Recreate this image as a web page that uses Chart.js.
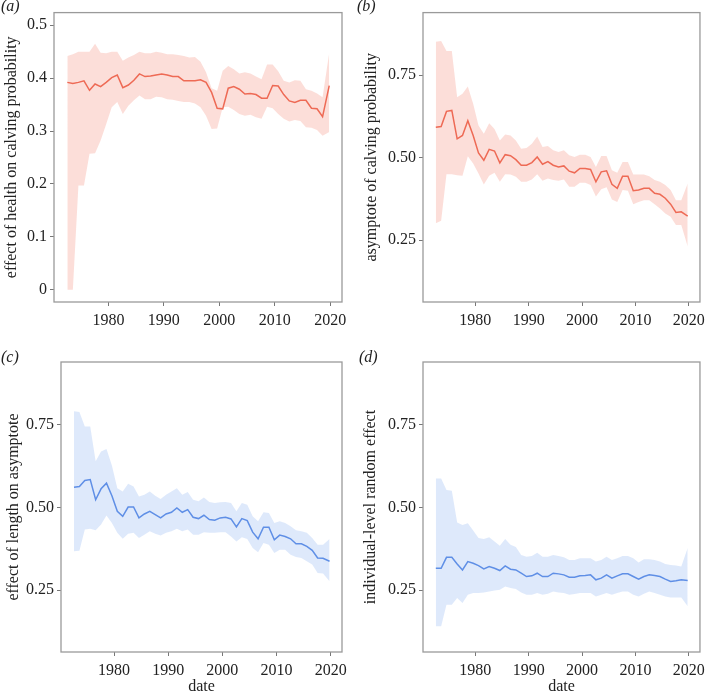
<!DOCTYPE html>
<html>
<head>
<meta charset="utf-8">
<script src="https://cdn.jsdelivr.net/npm/chart.js@4"></script>
<style>
    body { margin: 0; background: #fff; }
    #wrap { position: relative; width: 710px; height: 695px; }
    canvas { position: absolute; }
    .tag { position: absolute; font-family: "Liberation Serif", serif; font-style: italic; font-size: 16px; color: #222; }
</style>
</head>
<body>
<div id="wrap">
    <canvas id="chartA" width="355" height="330" style="left:0;top:0"></canvas>
    <canvas id="chartB" width="355" height="330" style="left:355px;top:0"></canvas>
    <canvas id="chartC" width="355" height="365" style="left:0;top:330px"></canvas>
    <canvas id="chartD" width="355" height="365" style="left:355px;top:330px"></canvas>
    <div class="tag" style="left:1px;top:-3px">(a)</div>
    <div class="tag" style="left:357px;top:-3px">(b)</div>
    <div class="tag" style="left:1px;top:348px">(c)</div>
    <div class="tag" style="left:359px;top:348px">(d)</div>
</div>
<script>
// one point per year
const dates = [1972.6, 1973.6, 1974.6, 1975.6, 1976.6, 1977.6, 1978.6, 1979.6, 1980.6, 1981.6,
    1982.6, 1983.6, 1984.6, 1985.6, 1986.6, 1987.6, 1988.6, 1989.6, 1990.6, 1991.6,
    1992.6, 1993.6, 1994.6, 1995.6, 1996.6, 1997.6, 1998.6, 1999.6, 2000.6, 2001.6,
    2002.6, 2003.6, 2004.6, 2005.6, 2006.6, 2007.6, 2008.6, 2009.6, 2010.6, 2011.6,
    2012.6, 2013.6, 2014.6, 2015.6, 2016.6, 2017.6, 2018.6, 2019.8];

const xTicks = [1980, 1990, 2000, 2010, 2020];
const yTicksA = [0, 0.1, 0.2, 0.3, 0.4, 0.5];
const yTicksBCD = [0.25, 0.50, 0.75];

// (a) effect of health on calving probability
const healthMean = [0.392, 0.390, 0.392, 0.395, 0.377, 0.389, 0.384, 0.392, 0.401, 0.406,
    0.382, 0.387, 0.396, 0.408, 0.403, 0.404, 0.406, 0.408, 0.406, 0.403,
    0.403, 0.395, 0.395, 0.395, 0.397, 0.392, 0.373, 0.343, 0.342, 0.381,
    0.384, 0.379, 0.370, 0.371, 0.369, 0.362, 0.362, 0.386, 0.385, 0.369,
    0.357, 0.354, 0.358, 0.358, 0.343, 0.342, 0.327, 0.386];
const healthUpper = [0.442, 0.445, 0.450, 0.450, 0.450, 0.465, 0.448, 0.447, 0.450, 0.450,
    0.433, 0.439, 0.444, 0.450, 0.447, 0.447, 0.450, 0.448, 0.445, 0.445,
    0.444, 0.442, 0.439, 0.440, 0.431, 0.411, 0.381, 0.376, 0.414, 0.423,
    0.417, 0.409, 0.411, 0.409, 0.403, 0.398, 0.426, 0.426, 0.413, 0.395,
    0.392, 0.396, 0.395, 0.379, 0.376, 0.371, 0.364, 0.448];
const healthLower = [0.000, 0.000, 0.197, 0.197, 0.257, 0.258, 0.282, 0.313, 0.345, 0.355,
    0.332, 0.348, 0.358, 0.367, 0.360, 0.360, 0.365, 0.364, 0.360, 0.359,
    0.357, 0.355, 0.355, 0.352, 0.345, 0.329, 0.304, 0.305, 0.345, 0.346,
    0.340, 0.332, 0.329, 0.331, 0.326, 0.323, 0.346, 0.343, 0.332, 0.323,
    0.318, 0.321, 0.319, 0.307, 0.306, 0.302, 0.291, 0.298];

// (b) asymptote of calving probability
const asymMean = [0.592, 0.594, 0.640, 0.643, 0.557, 0.567, 0.612, 0.567, 0.514, 0.492,
    0.525, 0.520, 0.484, 0.509, 0.506, 0.494, 0.477, 0.477, 0.485, 0.502,
    0.480, 0.488, 0.477, 0.472, 0.475, 0.459, 0.454, 0.467, 0.467, 0.464,
    0.427, 0.457, 0.460, 0.419, 0.407, 0.444, 0.444, 0.400, 0.402, 0.407,
    0.407, 0.392, 0.389, 0.377, 0.359, 0.334, 0.336, 0.323];
const asymUpper = [0.851, 0.853, 0.823, 0.823, 0.683, 0.693, 0.715, 0.663, 0.597, 0.572,
    0.604, 0.587, 0.552, 0.570, 0.567, 0.552, 0.527, 0.529, 0.542, 0.564,
    0.532, 0.535, 0.522, 0.517, 0.522, 0.507, 0.502, 0.509, 0.509, 0.502,
    0.472, 0.505, 0.505, 0.462, 0.454, 0.487, 0.487, 0.449, 0.449, 0.449,
    0.444, 0.432, 0.427, 0.417, 0.402, 0.371, 0.371, 0.422];
const asymLower = [0.301, 0.309, 0.450, 0.450, 0.447, 0.445, 0.504, 0.482, 0.452, 0.419,
    0.445, 0.454, 0.427, 0.450, 0.449, 0.442, 0.427, 0.427, 0.434, 0.450,
    0.430, 0.437, 0.432, 0.430, 0.434, 0.412, 0.412, 0.424, 0.424, 0.417,
    0.382, 0.404, 0.410, 0.373, 0.366, 0.402, 0.400, 0.359, 0.366, 0.371,
    0.371, 0.359, 0.346, 0.331, 0.321, 0.296, 0.296, 0.231];

// (c) effect of length on asymptote
const lengthMean = [0.561, 0.563, 0.581, 0.584, 0.523, 0.556, 0.573, 0.535, 0.488, 0.473,
    0.501, 0.501, 0.468, 0.480, 0.488, 0.478, 0.468, 0.480, 0.485, 0.498,
    0.485, 0.493, 0.470, 0.466, 0.476, 0.463, 0.461, 0.468, 0.470, 0.465,
    0.441, 0.466, 0.460, 0.425, 0.405, 0.440, 0.440, 0.402, 0.416, 0.412,
    0.405, 0.390, 0.390, 0.382, 0.370, 0.347, 0.346, 0.337];
const lengthUpper = [0.790, 0.788, 0.744, 0.744, 0.639, 0.669, 0.676, 0.626, 0.558, 0.548,
    0.571, 0.563, 0.533, 0.538, 0.548, 0.535, 0.525, 0.538, 0.548, 0.558,
    0.538, 0.546, 0.523, 0.518, 0.530, 0.516, 0.513, 0.515, 0.516, 0.513,
    0.488, 0.513, 0.508, 0.473, 0.458, 0.485, 0.483, 0.453, 0.458, 0.453,
    0.443, 0.431, 0.428, 0.423, 0.407, 0.387, 0.387, 0.404];
const lengthLower = [0.367, 0.369, 0.433, 0.435, 0.431, 0.448, 0.475, 0.453, 0.423, 0.405,
    0.420, 0.423, 0.407, 0.417, 0.428, 0.420, 0.415, 0.423, 0.428, 0.435,
    0.428, 0.433, 0.417, 0.417, 0.425, 0.423, 0.423, 0.425, 0.425, 0.412,
    0.397, 0.410, 0.404, 0.377, 0.364, 0.392, 0.387, 0.362, 0.372, 0.372,
    0.357, 0.350, 0.347, 0.337, 0.327, 0.302, 0.300, 0.277];

// (d) individual-level random effect
const randMean = [0.316, 0.316, 0.349, 0.349, 0.329, 0.311, 0.336, 0.331, 0.324, 0.314,
    0.321, 0.316, 0.309, 0.323, 0.313, 0.311, 0.301, 0.291, 0.293, 0.301,
    0.291, 0.291, 0.301, 0.299, 0.296, 0.289, 0.289, 0.293, 0.294, 0.296,
    0.281, 0.286, 0.296, 0.286, 0.293, 0.299, 0.299, 0.291, 0.283, 0.291,
    0.296, 0.294, 0.291, 0.283, 0.276, 0.278, 0.281, 0.279];
const randUpper = [0.587, 0.587, 0.552, 0.550, 0.454, 0.447, 0.452, 0.430, 0.407, 0.404,
    0.410, 0.397, 0.384, 0.404, 0.387, 0.380, 0.356, 0.351, 0.353, 0.363,
    0.351, 0.351, 0.356, 0.353, 0.349, 0.341, 0.341, 0.346, 0.346, 0.346,
    0.336, 0.341, 0.351, 0.341, 0.346, 0.353, 0.353, 0.346, 0.333, 0.343,
    0.343, 0.341, 0.336, 0.329, 0.326, 0.324, 0.321, 0.377];
const randLower = [0.141, 0.141, 0.206, 0.206, 0.226, 0.211, 0.236, 0.241, 0.241, 0.243,
    0.246, 0.249, 0.251, 0.261, 0.256, 0.253, 0.243, 0.236, 0.236, 0.241,
    0.236, 0.239, 0.246, 0.243, 0.241, 0.236, 0.238, 0.241, 0.241, 0.241,
    0.231, 0.236, 0.241, 0.236, 0.241, 0.246, 0.246, 0.236, 0.231, 0.239,
    0.246, 0.241, 0.236, 0.231, 0.228, 0.228, 0.228, 0.201];

const redLine = '#ee6a55';
const redBand = 'rgba(250, 200, 192, 0.6)';
const blueLine = '#5f8fe6';
const blueBand = 'rgba(200, 218, 248, 0.6)';

const serif = "'Liberation Serif', 'Times New Roman', serif";

// ggplot style grey box round the panel
const panelBox = {
    id: 'panelBox',
    afterDraw(chart) {
        const a = chart.chartArea;
        const ctx = chart.ctx;
        ctx.save();
        ctx.strokeStyle = '#9a9a9a';
        ctx.lineWidth = 1.3;
        ctx.strokeRect(a.left, a.top, a.right - a.left, a.bottom - a.top);
        ctx.restore();
    }
};

function toPoints(values) {
    return values.map((v, i) => ({ x: dates[i], y: v }));
}

function RenderPanel(canvasId, p) {
    new Chart(document.getElementById(canvasId), {
        type: 'line',
        data: {
            datasets: [{
                data: toPoints(p.mean),
                borderColor: p.lineColor,
                borderWidth: 1.5,
                pointRadius: 0,
                fill: false,
                tension: 0
            }, {
                data: toPoints(p.lower),
                borderWidth: 0,
                pointRadius: 0,
                fill: false
            }, {
                data: toPoints(p.upper),
                borderWidth: 0,
                pointRadius: 0,
                backgroundColor: p.bandColor,
                fill: '-1'
            }]
        },
        options: {
            responsive: false,
            animation: false,
            layout: {
                padding: { left: 0, right: p.padRight, top: p.padTop, bottom: 0 }
            },
            scales: {
                x: {
                    type: 'linear',
                    min: 1970.2,
                    max: 2022.1,
                    afterBuildTicks: (scale) => { scale.ticks = xTicks.map(v => ({ value: v })); },
                    afterFit: (scale) => { scale.height = p.xHeight; },
                    ticks: {
                        font: { family: serif, size: 16 },
                        color: '#222',
                        padding: 5,
                        maxRotation: 0,
                        callback: (v) => String(v)
                    },
                    grid: {
                        drawOnChartArea: false,
                        color: '#777',
                        tickLength: 4
                    },
                    border: { display: false },
                    title: {
                        display: p.xTitle != '',
                        text: p.xTitle,
                        font: { family: serif, size: 16, lineHeight: 1 },
                        color: '#222',
                        padding: { top: 0, bottom: 0 }
                    }
                },
                y: {
                    min: p.yMin,
                    max: p.yMax,
                    afterBuildTicks: (scale) => { scale.ticks = p.yTicks.map(v => ({ value: v })); },
                    afterFit: (scale) => { scale.width = p.yWidth; },
                    ticks: {
                        font: { family: serif, size: 16 },
                        color: '#222',
                        padding: 3,
                        callback: p.yLabel
                    },
                    grid: {
                        drawOnChartArea: false,
                        color: '#777',
                        tickLength: 4
                    },
                    border: { display: false },
                    title: {
                        display: true,
                        text: p.yTitle,
                        font: { family: serif, size: 16, lineHeight: 1.2 },
                        color: '#222',
                        padding: { top: p.yTitlePad, bottom: 0 }
                    }
                }
            },
            plugins: {
                legend: { display: false },
                tooltip: { enabled: false }
            }
        },
        plugins: [panelBox]
    });
}

const labelPlain = (v) => String(v);
const labelTwo = (v) => v.toFixed(2);

RenderPanel('chartA', {
    mean: healthMean, upper: healthUpper, lower: healthLower,
    lineColor: redLine, bandColor: redBand,
    yMin: -0.0234, yMax: 0.524, yTicks: yTicksA, yLabel: labelPlain,
    yTitle: 'effect of health on calving probability', xTitle: '',
    yWidth: 54, yTitlePad: 2, padRight: 13, padTop: 12, xHeight: 28
});

RenderPanel('chartB', {
    mean: asymMean, upper: asymUpper, lower: asymLower,
    lineColor: redLine, bandColor: redBand,
    yMin: 0.063, yMax: 0.939, yTicks: yTicksBCD, yLabel: labelTwo,
    yTitle: 'asymptote of calving probability', xTitle: '',
    yWidth: 68, yTitlePad: 7, padRight: 6, padTop: 12, xHeight: 28
});

RenderPanel('chartC', {
    mean: lengthMean, upper: lengthUpper, lower: lengthLower,
    lineColor: blueLine, bandColor: blueBand,
    yMin: 0.063, yMax: 0.939, yTicks: yTicksBCD, yLabel: labelTwo,
    yTitle: 'effect of length on asymptote', xTitle: 'date',
    yWidth: 61, yTitlePad: 4, padRight: 13, padTop: 32, xHeight: 43
});

RenderPanel('chartD', {
    mean: randMean, upper: randUpper, lower: randLower,
    lineColor: blueLine, bandColor: blueBand,
    yMin: 0.063, yMax: 0.939, yTicks: yTicksBCD, yLabel: labelTwo,
    yTitle: 'individual-level random effect', xTitle: 'date',
    yWidth: 68, yTitlePad: 6, padRight: 6, padTop: 32, xHeight: 43
});
</script>
</body>
</html>
